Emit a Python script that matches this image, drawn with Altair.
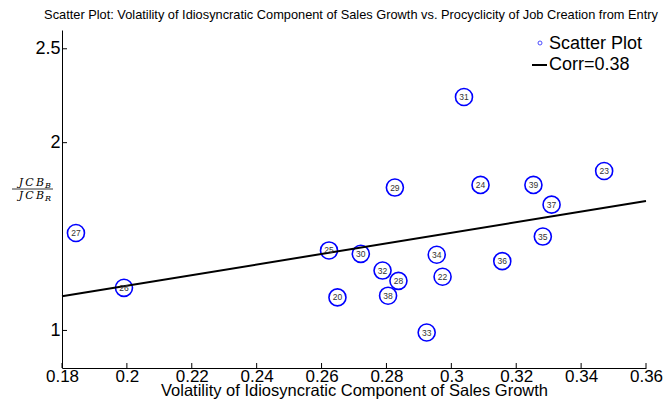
import altair as alt
import pandas as pd

# ---- data ----
ids = [27, 26, 25, 20, 30, 32, 28, 38, 29, 33, 34, 22, 31, 24, 36, 39, 35, 37, 23]
volatility = [0.1843, 0.1991, 0.2623, 0.2649, 0.2721, 0.2788, 0.2837, 0.2805, 0.2826,
              0.2924, 0.2955, 0.2973, 0.3039, 0.3090, 0.3157, 0.3253, 0.3282, 0.3309, 0.3471]
ratio = [1.519, 1.227, 1.426, 1.176, 1.408, 1.319, 1.264, 1.185, 1.761,
         0.989, 1.403, 1.286, 2.243, 1.775, 1.369, 1.775, 1.500, 1.670, 1.849]
fit_x = [0.18, 0.36]
fit_y = [1.182, 1.689]
x_ticks = [0.18, 0.20, 0.22, 0.24, 0.26, 0.28, 0.30, 0.32, 0.34, 0.36]
y_ticks = [1, 2, 2.5]
title_text = ("Scatter Plot: Volatility of Idiosyncratic Component of Sales Growth "
              "vs. Procyclicity of Job Creation from Entry")
x_title = "Volatility of Idiosyncratic Component of Sales Growth"
legend_labels = ["Scatter Plot", "Corr=0.38"]

W, H = 584, 338
FONT = "Liberation Sans"

df = pd.DataFrame({"id": ids, "vol": volatility, "ratio": ratio})
fit = pd.DataFrame({"vol": fit_x, "ratio": fit_y})

xs = alt.Scale(domain=[0.18, 0.36], nice=False, zero=False)
ys = alt.Scale(domain=[0.8, 2.6], nice=False, zero=False)

xax = alt.Axis(values=x_ticks, format="~g", labelFontSize=17, labelFont=FONT,
               labelColor="black", tickSize=0, domainColor="black", domainWidth=1,
               grid=False, labelPadding=0, title=x_title, titleFont=FONT,
               titleFontSize=16.5, titleFontWeight="normal", titleColor="black",
               titleBaseline="alphabetic", titleY=27.5, labelFlush=False)
yax = alt.Axis(values=y_ticks, format="~g", labelFontSize=18, labelFont=FONT,
               labelColor="black", tickSize=0, domainColor="black", domainWidth=1,
               grid=False, labelPadding=2, title=None)

base = alt.Chart(df)

points = base.mark_point(shape="circle", size=290, filled=False, stroke="#0000FF",
                         strokeWidth=1.6, opacity=1).encode(
    x=alt.X("vol:Q", scale=xs, axis=xax),
    y=alt.Y("ratio:Q", scale=ys, axis=yax),
)

labels = base.mark_text(fontSize=8.5, font=FONT, color="#333333",
                        baseline="middle", align="center").encode(
    x=alt.X("vol:Q", scale=xs), y=alt.Y("ratio:Q", scale=ys), text="id:N")

line = alt.Chart(fit).mark_line(color="black", strokeWidth=2).encode(
    x=alt.X("vol:Q", scale=xs), y=alt.Y("ratio:Q", scale=ys))

xt = alt.Chart(pd.DataFrame({"v": x_ticks})).mark_rule(color="black", strokeWidth=1).encode(
    x=alt.X("v:Q", scale=xs), y=alt.value(H), y2=alt.value(H - 5))
yt = alt.Chart(pd.DataFrame({"v": y_ticks})).mark_rule(color="black", strokeWidth=1).encode(
    y=alt.Y("v:Q", scale=ys), x=alt.value(0), x2=alt.value(5))

# chart title as a text mark above the plot
title_mark = alt.Chart(pd.DataFrame({"t": [title_text]})).mark_text(
    fontSize=12.8, font=FONT, align="center", baseline="alphabetic", color="black").encode(
    x=alt.value(W / 2 - 3), y=alt.value(-11), text="t:N")

# legend
leg_circle = alt.Chart(pd.DataFrame({"t": [legend_labels[0]]})).mark_point(
    shape="circle", size=16, filled=False, stroke="#0000FF", strokeWidth=1).encode(
    x=alt.value(478), y=alt.value(13))
leg_line = alt.Chart(pd.DataFrame({"t": [legend_labels[1]]})).mark_rule(
    color="black", strokeWidth=2).encode(x=alt.value(470), x2=alt.value(485), y=alt.value(35))
leg_t1 = alt.Chart(pd.DataFrame({"t": [legend_labels[0]]})).mark_text(
    fontSize=18, font=FONT, align="left", baseline="middle", color="black").encode(
    x=alt.value(487), y=alt.value(14), text="t:N")
leg_t2 = alt.Chart(pd.DataFrame({"t": [legend_labels[1]]})).mark_text(
    fontSize=18, font=FONT, align="left", baseline="middle", color="black").encode(
    x=alt.value(487), y=alt.value(35), text="t:N")

# y-axis label (fraction JCB_B / JCB_R)
SERIF = "DejaVu Serif"
ylab_main = alt.Chart(pd.DataFrame({"t": ["J\u2009C\u2009B", "J\u2009C\u2009B"],
                                    "yy": [156, 169]})).mark_text(
    fontSize=11, font=SERIF, fontStyle="italic", align="right", baseline="alphabetic",
    color="black").encode(x=alt.value(-18), y=alt.Y("yy:Q", scale=None), text="t:N")
ylab_sub = alt.Chart(pd.DataFrame({"t": ["B", "R"], "yy": [158, 171]})).mark_text(
    fontSize=8, font=SERIF, fontStyle="italic", align="left", baseline="alphabetic",
    color="black").encode(x=alt.value(-17), y=alt.Y("yy:Q", scale=None), text="t:N")
ylab_bar = alt.Chart(pd.DataFrame({"t": ["bar"]})).mark_rule(
    color="black", strokeWidth=0.8).encode(x=alt.value(-50), x2=alt.value(-9), y=alt.value(159))

chart = alt.layer(points, line, labels, xt, yt, title_mark, leg_circle, leg_line,
                  leg_t1, leg_t2, ylab_main, ylab_sub, ylab_bar).properties(
    width=W, height=H,
    autosize=alt.AutoSizeParams(type="none"),
    padding={"left": 54, "top": 22, "right": 18, "bottom": 31},
).configure_view(stroke=None)

chart.save("out.html", embed_options={"renderer": "svg", "actions": False})
